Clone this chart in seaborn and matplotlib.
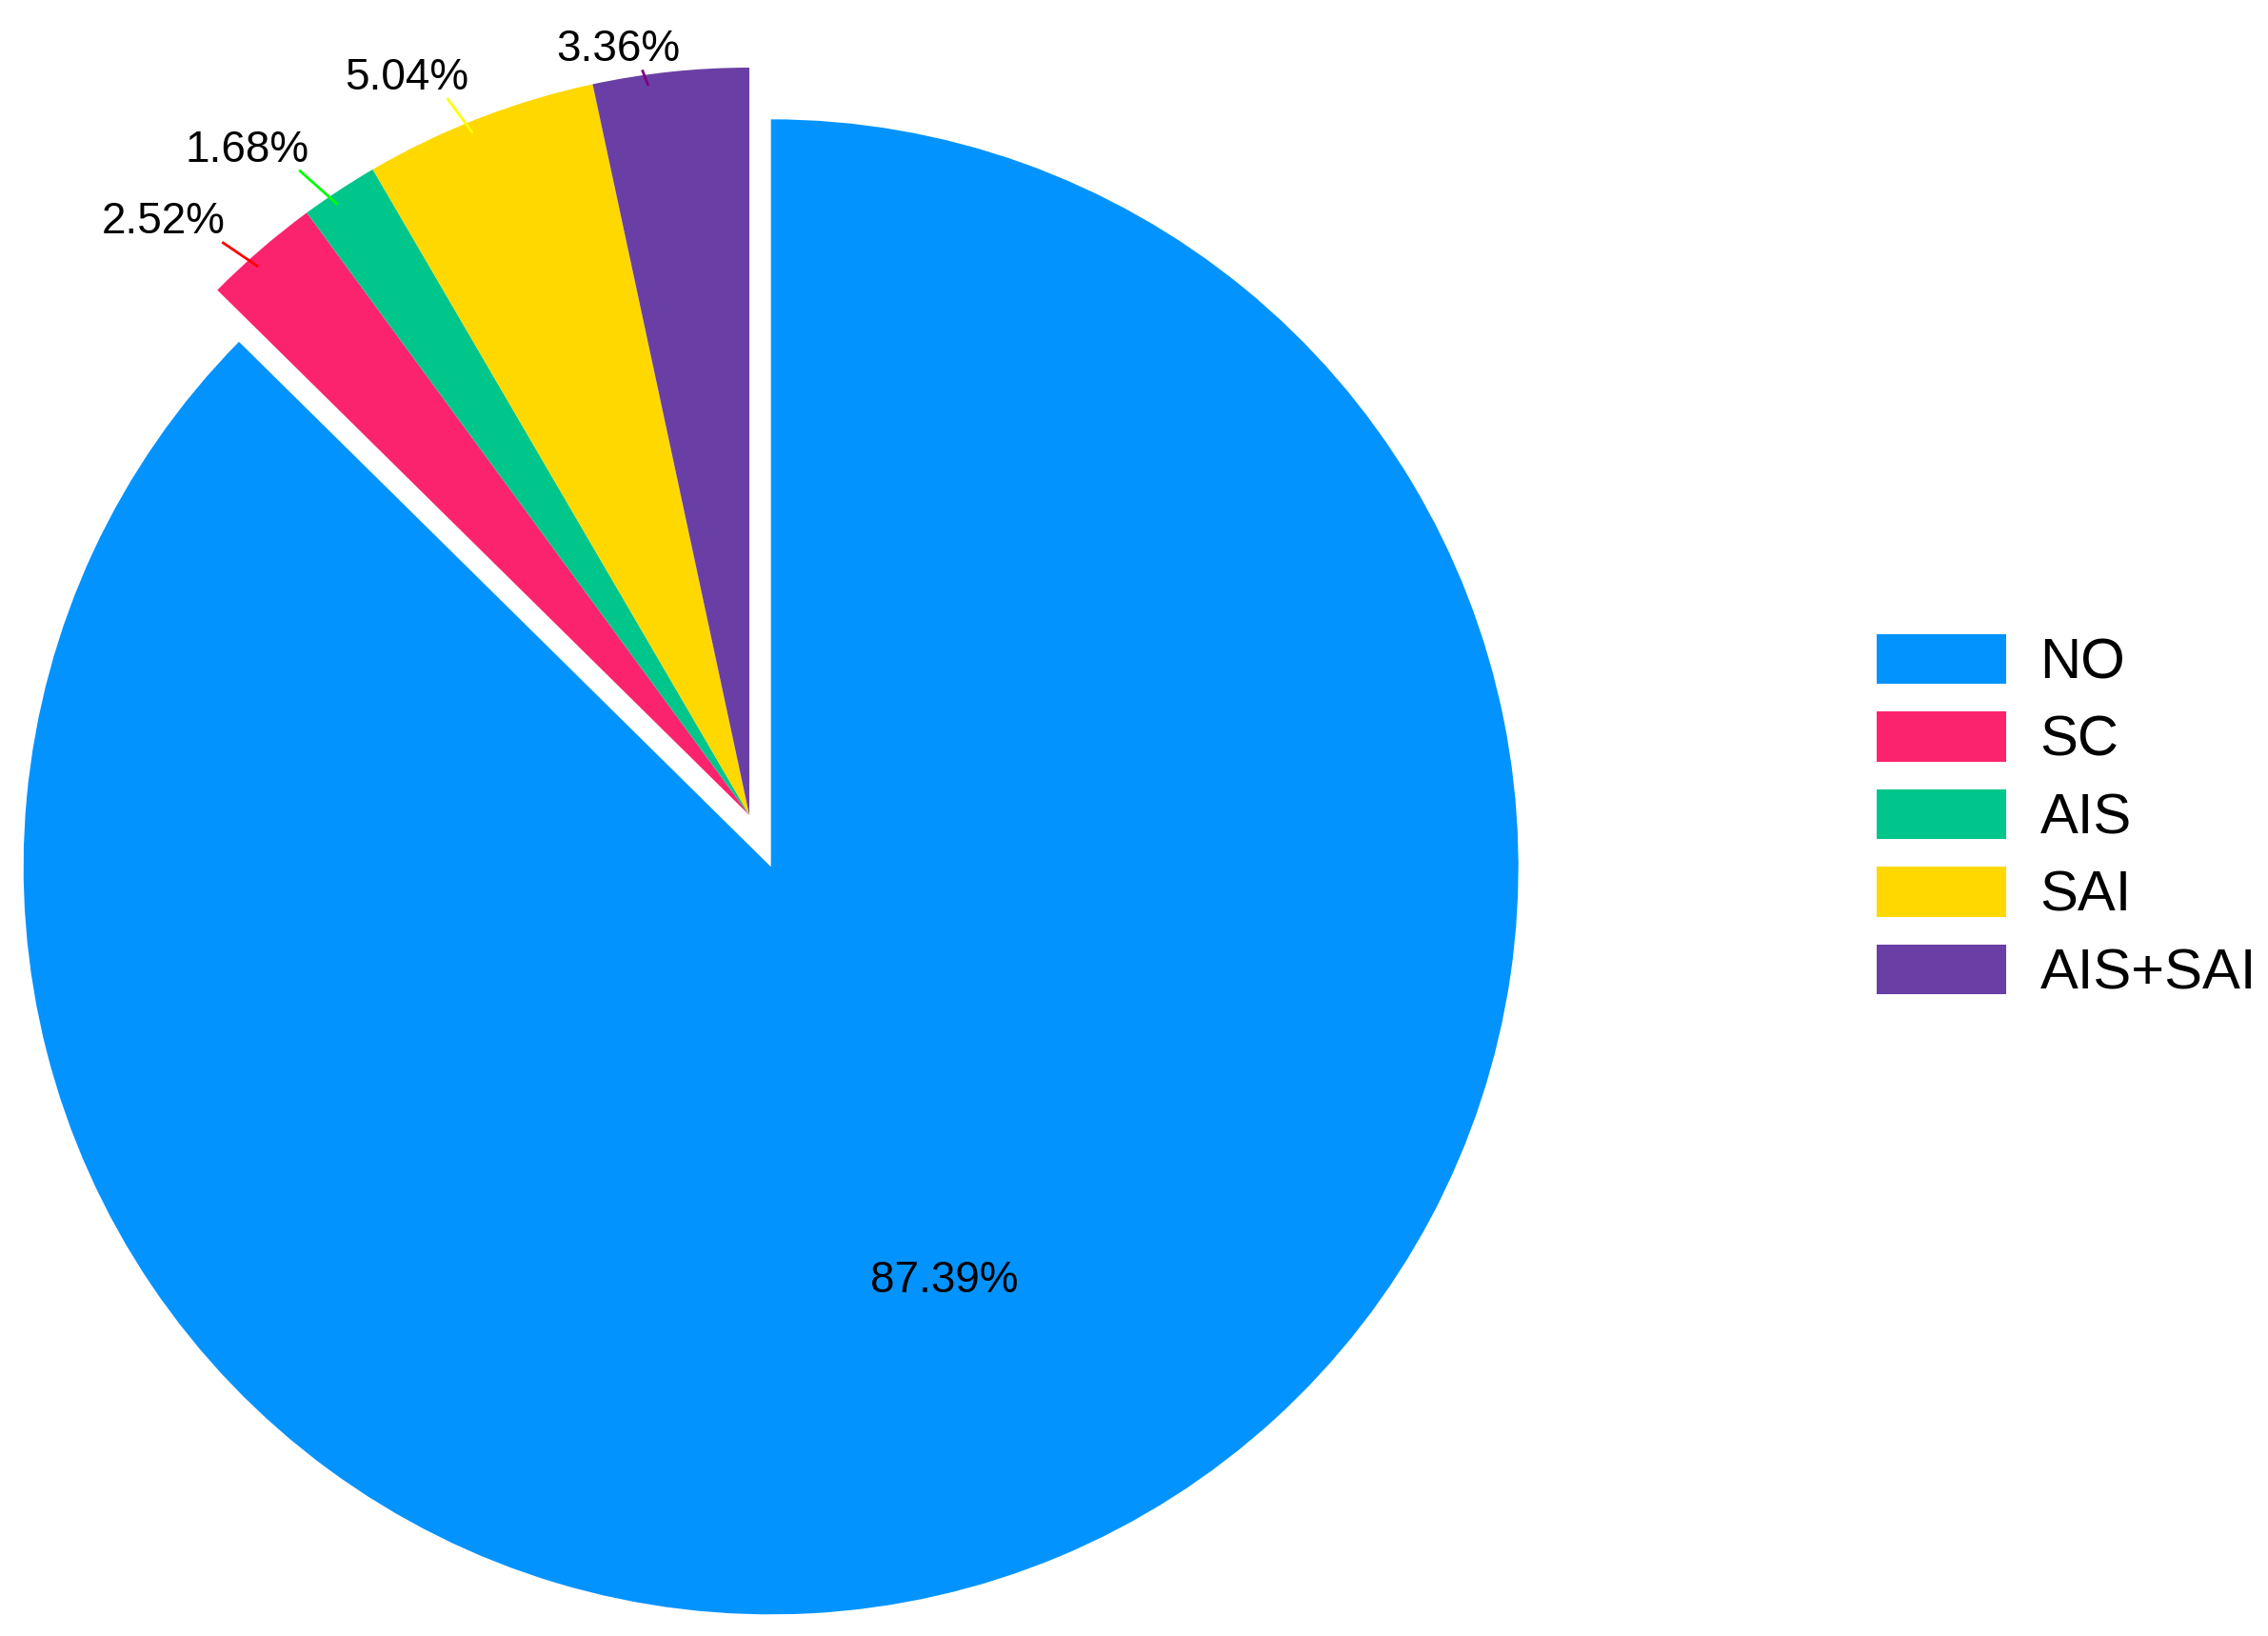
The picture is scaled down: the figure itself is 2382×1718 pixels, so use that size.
import numpy as np
import matplotlib
matplotlib.use('Agg')
import matplotlib.pyplot as plt
import seaborn as sns

# data
groups = ['NO', 'SC', 'AIS', 'SAI', 'AIS+SAI']
counts = [104, 3, 2, 6, 4]
colors = ['#0393FF', '#FC236E', '#00C68C', '#FFD800', '#6A3FA5']
line_colors = [None, '#FF0000', '#00FF00', '#FFFF00', '#800080']
explode = [0.075, 0, 0, 0, 0]

sns.set_theme(style='white')
plt.rcParams['font.family'] = ['Liberation Sans', 'DejaVu Sans']
plt.rcParams['text.color'] = 'black'

W, H = 2382, 1718
R, px, py = 785, 787, 856   # pie radius and centre in pixels (from top-left)
fig = plt.figure(figsize=(W / 200, H / 200), dpi=200)
ax = fig.add_axes([0, 0, 1, 1])

wedges, _ = ax.pie(counts, colors=colors, explode=explode, startangle=90,
                   counterclock=False, radius=1,
                   wedgeprops=dict(linewidth=0, antialiased=True))

pcts = np.array(counts) / sum(counts) * 100
for w, p, lc in zip(wedges, pcts, line_colors):
    mid = (w.theta1 + w.theta2) / 2
    ang = np.deg2rad(mid)
    cx, cy = w.center
    c, s = np.cos(ang), np.sin(ang)
    if lc is None:
        ax.text(cx + 0.6 * c, cy + 0.6 * s, f'{p:.2f}%', ha='center',
                va='center', fontsize=16.5, color='black')
        continue
    # outside label, nudged a bit counter-clockwise and pushed out more when sideways
    at = np.deg2rad(mid + 3.6)
    rt = min(1.12, 1.013 + 0.19 * abs(np.cos(at)))
    tx, ty = cx + rt * np.cos(at), cy + rt * np.sin(at)
    ax.text(tx, ty - 5 / R, f'{p:.2f}%', ha='center', va='center',
            fontsize=16.5, color='black')
    # leader: ends just under the label, leans 15 deg off the radius,
    # and starts slightly inside the slice edge
    f = min(1.05, 0.28 + 1.05 * abs(c))
    ox, oy = tx + f * 64 / R - cx, ty - 26 / R - cy
    d = np.deg2rad(mid + 15)
    dx, dy = -np.cos(d), -np.sin(d)
    b = ox * dx + oy * dy
    t = -b - np.sqrt(b * b - (ox * ox + oy * oy - 0.985 ** 2))
    ax.plot([cx + ox, cx + ox + t * dx], [cy + oy, cy + oy + t * dy],
            color=lc, lw=1.0, solid_capstyle='butt')

ax.set_xlim(-px / R, (W - px) / R)
ax.set_ylim(-(H - py) / R, py / R)
ax.axis('off')

ax.legend(wedges, groups, loc='center left',
          bbox_to_anchor=(1971 / W, 1 - 858 / H), bbox_transform=fig.transFigure,
          frameon=False, fontsize=21.5, handlelength=2.27, handleheight=0.98,
          labelspacing=0.38, handletextpad=0.6, borderpad=0, borderaxespad=0,
          labelcolor='black')

fig.savefig('out.png', dpi=200, facecolor='white')
